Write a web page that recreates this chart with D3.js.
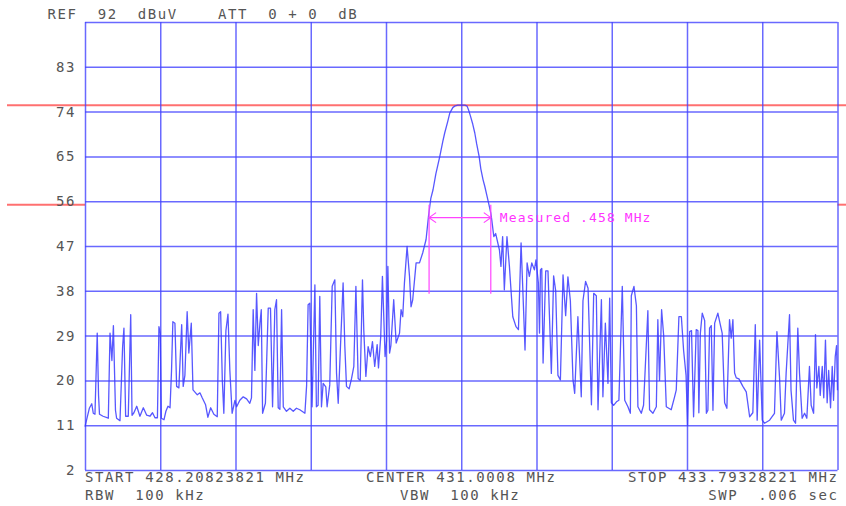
<!DOCTYPE html>
<html>
<head>
<meta charset="utf-8">
<script src="https://cdn.jsdelivr.net/npm/d3@7"></script>
<style>
  body { margin: 0; background: #fff; }
  svg { display: block; }
  text { font-family: "DejaVu Sans Mono", monospace; font-size: 14px; fill: #555; letter-spacing: 1.6px; white-space: pre; }
  .grid line { stroke: #4444ff; stroke-opacity: 0.8; stroke-width: 1.5; }
  .grid .domain { display: none; }
  .trace { fill: none; stroke: #3a3aff; stroke-opacity: 0.85; stroke-width: 1.3; stroke-linejoin: round; }
  .marker { stroke: #ff44ff; stroke-width: 1.2; fill: none; }
  .marker-label { fill: #ff33ff; font-size: 13px; letter-spacing: 1.1px; }
</style>
</head>
<body>
<div id="container"></div>
<script>
/* CONSTANTS AND GLOBALS */
const width = 846,
  height = 506,
  margin = { top: 22, bottom: 36, left: 85, right: 8 }

// analyzer settings
const startMHz = 428.20823821,
  stopMHz = 433.79328221,
  nBins = 400
const refLevel = 92
const dbTicks = [2, 11, 20, 29, 38, 47, 56, 65, 74, 83, 92]
const displayLines = [75.3, 55.3]

// -20 dB bandwidth marker
const markerF = [430.762, 431.220]
const markerTop = 55.3, markerBottom = 37.4, markerLevel = 52.7
const markerText = "Measured .458 MHz"

// header / footer annotations
const headerText = "REF  92  dBuV    ATT  0 + 0  dB"
const rbwText = "RBW  100 kHz", vbwText = "VBW  100 kHz", swpText = "SWP  .006 sec"

// trace: [bin (0..400), dBuV]
const trace = [
  [0, 10.7], [2.3, 14.4], [3.6, 15.3], [4.4, 13.4], [5.3, 13.2], [6.5, 29.5], [7.2, 17], [7.7, 13.2],
  [9.6, 12.8], [12.4, 12.4], [13.3, 29.5], [14.3, 24], [15.1, 31], [16.2, 14], [16.8, 12.4], [18.6, 11.9],
  [20, 26.8], [20.7, 30.5], [21.6, 12.8], [23, 12.8], [24.3, 33.2], [25, 13], [26, 13.5], [27.5, 14.8],
  [29.2, 12.8], [31, 14.5], [32.8, 13], [34.5, 12.8], [35.9, 13.5], [37.2, 12.5], [38.5, 12.5], [39.3, 30.8],
  [40, 29.5], [40.6, 12.4], [42, 12.1], [43, 13.8], [44.1, 14.8], [45.2, 14.5], [46, 22], [46.7, 31.8],
  [47.8, 31.5], [48.7, 18.8], [49.9, 18.5], [51.4, 31.2], [52.2, 18.8], [53.1, 21], [54.3, 33.8], [55.2, 25.5],
  [56.5, 31.5], [57.4, 18.1], [59.7, 17.1], [61.1, 17.5], [62.3, 16.5], [64.1, 15.1], [65.3, 12.6], [66.8, 14.5],
  [68.5, 13.2], [70.3, 12.7], [71.2, 33.5], [72.1, 33.8], [73, 20], [73.8, 13.4], [74.9, 30], [76, 33.3],
  [77, 22], [78.2, 13.4], [79.7, 16], [80.6, 14.7], [82.3, 16], [84.1, 16.7], [85.9, 16.3], [87.6, 15.4],
  [88.5, 16.5], [89.4, 34.2], [90.3, 22], [91.2, 37.5], [92.1, 27], [93, 31.5], [93.7, 34.2], [94.4, 13.4],
  [95.9, 15.4], [97.4, 34.5], [98.6, 34.5], [99.7, 14.7], [100.9, 34.2], [101.8, 36.2], [102.7, 14.5], [103.6, 14.2],
  [104.5, 34.2], [105.4, 14.7], [107.1, 13.8], [108.9, 14.4], [110.7, 13.8], [112.4, 14.4], [114.2, 14.1], [116.9, 13.4],
  [117.8, 19], [118.6, 35.2], [119.5, 35.5], [120.7, 14.7], [122.2, 39.2], [123, 14.7], [123.9, 15], [124.8, 36.9],
  [125.7, 14.7], [126.6, 19.4], [128, 18.7], [128.7, 14.7], [130.1, 19.1], [131.4, 38.9], [132.8, 40.2], [133.7, 21.5],
  [134.6, 15.4], [135.8, 26.8], [137.2, 39.6], [138.1, 27], [139, 18.8], [140.4, 18.3], [141.7, 20.4], [142.9, 22.8],
  [144, 38.9], [145.2, 20.4], [146.3, 20], [147.5, 40.2], [148.2, 30], [149.3, 20.8], [150.5, 26.8], [151.7, 24.8],
  [152.8, 27.8], [154, 22.8], [155.3, 27.2], [156, 22.5], [157.2, 28.8], [158.1, 40.9], [158.8, 33], [159.5, 24.8],
  [160.3, 28], [161, 42.9], [161.9, 25.5], [162.6, 27], [164.1, 36.2], [165.4, 27.5], [167.2, 29.5], [168, 34.2],
  [168.9, 32.8], [169.8, 39.6], [171.2, 46.9], [172.5, 40.9], [173.3, 34.8], [174.2, 36.2], [176, 43.6], [177.8, 43.6],
  [179.5, 45.6], [181.3, 48.3], [182.6, 53], [183.8, 56.5], [185, 58.3], [186.5, 61.5], [188.6, 65], [190.2, 68],
  [191.2, 69.7], [192.8, 72], [193.9, 73.7], [195.5, 74.8], [196.5, 75.1], [198.1, 75.3], [200.1, 75.3], [201.9, 75.3],
  [203.1, 75.1], [204, 74.2], [204.9, 73.1], [206.1, 71.5], [207.2, 69.7], [208.2, 67.5], [209.5, 65], [210.4, 62.5],
  [211.6, 60.3], [212.5, 59], [213.7, 57], [214.6, 55.5], [215.7, 53.6], [216.2, 52.3], [217.3, 48.9], [218.3, 49.5],
  [220.3, 46.2], [221.1, 42.9], [222, 48.9], [222.9, 38.2], [224.3, 48.9], [225.6, 42.9], [227.4, 32.8], [229.1, 30.8],
  [230.4, 30.2], [231.8, 47.6], [232.8, 37.5], [233.9, 26.1], [235, 43.6], [236.2, 40.9], [237.5, 43.6], [238.9, 42.2],
  [239.7, 44.2], [241, 39.6], [241.6, 29.5], [242.1, 42.2], [242.8, 42.5], [243.5, 23.5], [244.9, 42], [246.1, 42],
  [247.9, 21.4], [249.1, 41], [250.2, 38], [251.4, 21], [252.7, 20.1], [254.1, 41.2], [255.5, 33], [256.7, 40.8],
  [258, 36], [259.4, 20.1], [260.3, 17.4], [262, 32.8], [263.8, 16.7], [264.7, 36], [266.1, 39.9], [267.4, 38.5],
  [269.2, 15.1], [270.4, 37.5], [271.8, 37], [272.7, 14.1], [274.5, 36.2], [275.3, 16.7], [276.6, 31.5], [278, 19.4],
  [278.9, 36.5], [279.8, 15.5], [281, 15], [282.5, 15.7], [283.8, 16], [285.6, 38.9], [286.9, 16], [288.6, 14.7],
  [289.9, 13.4], [290.4, 37], [291.8, 38.9], [293.1, 35], [293.9, 14.7], [295.7, 13.4], [296.9, 15], [299.2, 34],
  [300.1, 14.1], [301.9, 13.4], [303.7, 14.7], [304.5, 32.2], [305.4, 20], [306.5, 34.2], [307.6, 29], [309, 14.7],
  [311.6, 14.1], [313.4, 16.7], [314.3, 18.1], [315.7, 32.8], [317, 32.8], [318.2, 26], [319.5, 21], [320.3, 11],
  [321.4, 29.8], [322.4, 30], [323.5, 12.7], [324.9, 30.2], [325.8, 30], [326.3, 13.5], [327.1, 29.5], [328.1, 33.5],
  [329.4, 32], [330.3, 13.4], [331.1, 14], [332, 30.5], [332.9, 31], [333.8, 14], [334.7, 31.5], [336.4, 33.5],
  [337.7, 31.2], [338.7, 29.5], [340, 15.5], [341.2, 14.4], [342.6, 32.2], [343.5, 28.5], [344.4, 32.2], [345.3, 21.5],
  [346.2, 20.5], [347.6, 20.3], [349.7, 18.8], [351.5, 17.7], [353.3, 12.7], [355, 13.5], [356.3, 31.2], [357.3, 12],
  [358.6, 28.1], [360, 12], [361.2, 11.4], [363.9, 12], [366.5, 13.4], [367.8, 29.8], [369.2, 20.5], [370.1, 12],
  [371.8, 13.4], [372.7, 21.5], [374.5, 33.2], [375.3, 18], [376.6, 12], [377.7, 11.4], [378.9, 30.5], [379.8, 21.5],
  [381.2, 12.4], [382.5, 13.4], [383.7, 12.4], [385.1, 22.8], [386, 15], [387.3, 13.4], [388.3, 29.2], [389, 18.5],
  [390.1, 22.8], [390.8, 17], [391.9, 22.8], [392.7, 16.5], [393.6, 28.1], [394.5, 15.5], [395.3, 22], [396.3, 14.5],
  [397.2, 22.8], [397.9, 16], [398.8, 24.8], [399.5, 27], [400, 18]
]

const spanMHz = stopMHz - startMHz
const binToMHz = b => startMHz + b * spanMHz / nBins

/* SCALES */
const xScale = d3.scaleLinear()
  .domain([startMHz, stopMHz])
  .range([margin.left, width - margin.right - 0.5])

const yScale = d3.scaleLinear()
  .domain([dbTicks[0], refLevel])
  .range([height - margin.bottom, margin.top])

const plotW = xScale.range()[1] - xScale.range()[0]
const plotH = yScale.range()[0] - yScale.range()[1]

/* SVG */
const svg = d3.select("#container")
  .append("svg")
  .attr("width", width)
  .attr("height", height)

// display lines (red), the upper one runs across the screen
svg.append("line")
  .attr("x1", 7).attr("x2", width)
  .attr("y1", yScale(displayLines[0])).attr("y2", yScale(displayLines[0]))
  .attr("stroke", "#ff7070").attr("stroke-width", 2)

;[[7, xScale.range()[0]], [xScale.range()[1], width]].forEach(([a, b]) => {
  svg.append("line")
    .attr("x1", a).attr("x2", b)
    .attr("y1", yScale(displayLines[1])).attr("y2", yScale(displayLines[1]))
    .attr("stroke", "#ff7070").attr("stroke-width", 2)
})

/* GRATICULE (axes) */
const yAxis = d3.axisLeft(yScale)
  .tickValues(dbTicks)
  .tickSize(-plotW)
  .tickPadding(9)
  .tickFormat(d => d === refLevel ? "" : d)

svg.append("g")
  .attr("class", "grid yAxis")
  .attr("transform", `translate(${margin.left}, 0)`)
  .call(yAxis)
  .call(g => g.selectAll("text").attr("fill", null))

const xAxis = d3.axisBottom(xScale)
  .tickValues(d3.range(11).map(i => startMHz + i * spanMHz / 10))
  .tickSize(plotH)
  .tickFormat("")

svg.append("g")
  .attr("class", "grid xAxis")
  .attr("transform", `translate(0, ${margin.top})`)
  .call(xAxis)

svg.select(".yAxis").selectAll(".tick").filter(d => d === refLevel)
  .select("line").attr("stroke", "#9a9aff")

/* TRACE */
const lineGen = d3.line()
  .x(d => xScale(binToMHz(d[0])))
  .y(d => yScale(d[1]))

svg.append("path")
  .datum(trace)
  .attr("class", "trace")
  .attr("d", lineGen)

/* MARKER */
const mk = svg.append("g").attr("class", "marker")
markerF.forEach(f => {
  mk.append("line")
    .attr("x1", xScale(f)).attr("x2", xScale(f))
    .attr("y1", yScale(markerTop)).attr("y2", yScale(markerBottom))
})
const ax1 = xScale(markerF[0]), ax2 = xScale(markerF[1]), ay = yScale(markerLevel)
mk.append("line").attr("x1", ax1).attr("x2", ax2).attr("y1", ay).attr("y2", ay)
mk.append("path").attr("d", `M${ax1 + 7},${ay - 5}L${ax1},${ay}L${ax1 + 7},${ay + 5}`)
mk.append("path").attr("d", `M${ax2 - 7},${ay - 5}L${ax2},${ay}L${ax2 - 7},${ay + 5}`)

svg.append("text")
  .attr("class", "marker-label")
  .attr("x", ax2 + 9)
  .attr("y", ay + 4.5)
  .text(markerText)

/* ANNOTATIONS */
svg.append("text").attr("x", 47.5).attr("y", 19).text(headerText)

const row1 = height - 24, row2 = height - 6
svg.append("text").attr("x", margin.left).attr("y", row1)
  .text(`START ${startMHz.toFixed(8)} MHz`)
svg.append("text").attr("x", 366).attr("y", row1)
  .text(`CENTER ${((startMHz + stopMHz) / 2).toFixed(4)} MHz`)
svg.append("text").attr("x", xScale.range()[1] + 1).attr("y", row1)
  .attr("text-anchor", "end")
  .text(`STOP ${stopMHz.toFixed(8)} MHz`)

svg.append("text").attr("x", margin.left).attr("y", row2).text(rbwText)
svg.append("text").attr("x", 400).attr("y", row2).text(vbwText)
svg.append("text").attr("x", xScale.range()[1] + 1).attr("y", row2)
  .attr("text-anchor", "end").text(swpText)
</script>
</body>
</html>
